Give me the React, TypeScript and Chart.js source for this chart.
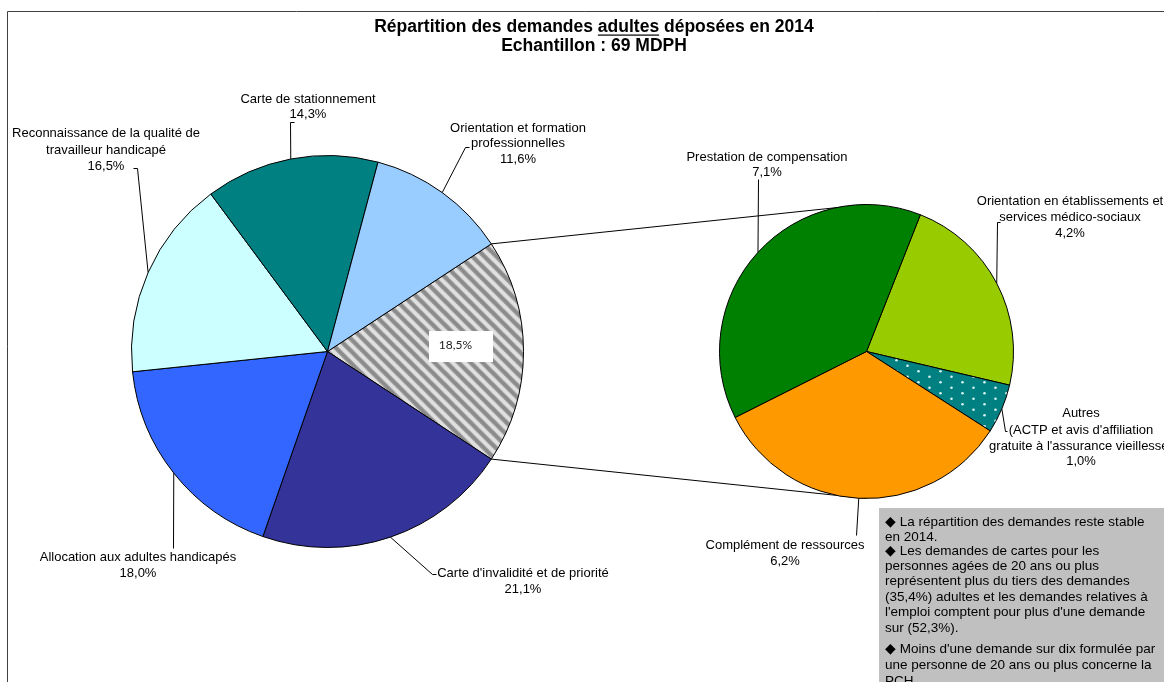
import React, { useEffect, useRef } from 'react';
import { Chart, registerables } from 'chart.js';

Chart.register(...registerables);

const W = 1164;
const H = 682;
const FONT = '"Liberation Sans", Arial, sans-serif';

// ---------- data ----------
const titleLine1 = ['Répartition des demandes ', 'adultes', ' déposées en 2014'];
const titleLine2 = 'Echantillon : 69 MDPH';

const mainCategories = [
  'Autres demandes (détail)',
  "Carte d'invalidité et de priorité",
  'Allocation aux adultes handicapés',
  'Reconnaissance de la qualité de travailleur handicapé',
  'Carte de stationnement',
  'Orientation et formation professionnelles',
];
const mainValues = [18.5, 21.1, 18.0, 16.5, 14.3, 11.6];
const mainLabelLines = [
  [],
  ["Carte d'invalidité et de priorité"],
  ['Allocation aux adultes handicapés'],
  ['Reconnaissance de la qualité de', 'travailleur handicapé'],
  ['Carte de stationnement'],
  ['Orientation et formation', 'professionnelles'],
];

const subCategories = [
  'Orientation en établissements et services médico-sociaux',
  "Autres (ACTP et avis d'affiliation gratuite à l'assurance vieillesse)",
  'Complément de ressources',
  'Prestation de compensation',
];
const subValues = [4.2, 1.0, 6.2, 7.1];
const subLabelLines = [
  ['Orientation en établissements et', 'services médico-sociaux'],
  ['Autres', "(ACTP et avis d'affiliation", "gratuite à l'assurance vieillesse)"],
  ['Complément de ressources'],
  ['Prestation de compensation'],
];

const noteLines = [
  '◆ La répartition des demandes reste stable',
  'en 2014.',
  '◆ Les demandes de cartes pour les',
  'personnes agées de 20 ans ou plus',
  'représentent plus du tiers des demandes',
  '(35,4%) adultes et les demandes relatives à',
  "l'emploi comptent pour plus d'une demande",
  'sur (52,3%).',
  "◆ Moins d'une demande sur dix formulée par",
  'une personne de 20 ans ou plus concerne la',
  'PCH.',
];

// ---------- layout / style ----------
const mainColors = ['HATCH', '#333399', '#3366FF', '#CCFFFF', '#008080', '#99CCFF'];
const subColors = ['#99CC00', 'DOTS', '#FF9900', '#008000'];

type LabelPos = { cx: number; ys: number[]; path: number[][] } | null;
const mainLabelPos: LabelPos[] = [
  null,
  { cx: 523, ys: [573, 589], path: [[432, 574], [436, 574]] },
  { cx: 138, ys: [557, 573], path: [[173, 548]] },
  { cx: 106, ys: [133, 150, 166], path: [[137, 168], [133, 168]] },
  { cx: 308, ys: [99, 114], path: [[290, 122], [294, 122]] },
  { cx: 518, ys: [128, 143, 159], path: [[465, 147], [469, 147]] },
];
const subLabelPos: LabelPos[] = [
  { cx: 1070, ys: [201, 217, 233], path: [[997, 222], [1000, 222]] },
  { cx: 1081, ys: [413, 430, 446, 461], path: [[1005, 431], [1007, 431]] },
  { cx: 785, ys: [545, 561], path: [[856, 535]] },
  { cx: 767, ys: [157, 172], path: [[758, 179]] },
];
const noteYs = [522, 537, 551, 566, 581, 597, 612, 628, 649, 665, 681];

function pct(v: number) {
  return v.toFixed(1).replace('.', ',') + '%';
}

function makeHatch(): CanvasPattern | string {
  const c = document.createElement('canvas');
  c.width = 12;
  c.height = 12;
  const g = c.getContext('2d');
  if (!g) return '#bbbbbb';
  g.fillStyle = '#e0e0e0';
  g.fillRect(0, 0, 12, 12);
  for (const [lw, col] of [[5, '#a8a8a8'], [3, '#8a8a8a']] as [number, string][]) {
    g.strokeStyle = col;
    g.lineWidth = lw;
    for (const x0 of [-12, 0, 12]) {
      g.beginPath();
      g.moveTo(x0 - 2, -2);
      g.lineTo(x0 + 14, 14);
      g.stroke();
    }
  }
  return g.createPattern(c, 'repeat') || '#bbbbbb';
}

function makeDots(): CanvasPattern | string {
  const c = document.createElement('canvas');
  c.width = 22;
  c.height = 11;
  const g = c.getContext('2d');
  if (!g) return '#008080';
  g.fillStyle = '#008080';
  g.fillRect(0, 0, 22, 11);
  g.fillStyle = '#d6f2f2';
  for (const [x, y] of [[5.5, 2.75], [16.5, 8.25]]) {
    g.beginPath();
    g.arc(x, y, 1.3, 0, Math.PI * 2);
    g.fill();
  }
  return g.createPattern(c, 'repeat') || '#008080';
}

function arcGeom(chart: any, i: number) {
  const arc = chart.getDatasetMeta(0).data[i] as any;
  return arc.getProps(['x', 'y', 'startAngle', 'endAngle', 'outerRadius'], true);
}

function drawLabels(ctx: CanvasRenderingContext2D, chart: any, lines: string[][], values: number[], pos: LabelPos[]) {
  ctx.save();
  ctx.strokeStyle = '#000';
  ctx.lineWidth = 1;
  ctx.fillStyle = '#000';
  ctx.font = `13px ${FONT}`;
  ctx.textAlign = 'center';
  ctx.textBaseline = 'middle';
  pos.forEach((p, i) => {
    if (!p) return;
    const g = arcGeom(chart, i);
    const mid = (g.startAngle + g.endAngle) / 2;
    const ax = g.x + Math.cos(mid) * g.outerRadius;
    const ay = g.y + Math.sin(mid) * g.outerRadius;
    ctx.beginPath();
    ctx.moveTo(ax, ay);
    p.path.forEach(([x, y]) => ctx.lineTo(x + 0.5, y + 0.5));
    ctx.stroke();
    const all = [...lines[i], pct(values[i])];
    all.forEach((t, k) => ctx.fillText(t, p.cx, p.ys[k]));
  });
  ctx.restore();
}

export default function App() {
  const mainRef = useRef<HTMLCanvasElement>(null);
  const subRef = useRef<HTMLCanvasElement>(null);

  useEffect(() => {
    if (!mainRef.current || !subRef.current) return;
    const hatch = makeHatch();
    const dots = makeDots();

    const mainPlugin = {
      id: 'mainDecor',
      beforeDraw(chart: any) {
        const ctx = chart.ctx as CanvasRenderingContext2D;
        ctx.save();
        ctx.fillStyle = '#ffffff';
        ctx.fillRect(0, 0, W, H);
        ctx.strokeStyle = '#404040';
        ctx.lineWidth = 1;
        ctx.beginPath();
        ctx.moveTo(7.5, H);
        ctx.lineTo(7.5, 11.5);
        ctx.lineTo(W, 11.5);
        ctx.stroke();
        ctx.restore();
      },
      afterDraw(chart: any) {
        const ctx = chart.ctx as CanvasRenderingContext2D;
        drawLabels(ctx, chart, mainLabelLines, mainValues, mainLabelPos);
        // label of the detailed slice
        const g = arcGeom(chart, 0);
        const mid = (g.startAngle + g.endAngle) / 2;
        const lx = g.x + Math.cos(mid) * g.outerRadius * 0.68;
        const ly = g.y + Math.sin(mid) * g.outerRadius * 0.68;
        ctx.save();
        ctx.fillStyle = '#ffffff';
        ctx.fillRect(Math.round(lx - 32), Math.round(ly - 21), 64, 31);
        ctx.fillStyle = '#222';
        ctx.font = `12px Lato, "Open Sans", sans-serif`;
        ctx.textAlign = 'left';
        ctx.textBaseline = 'middle';
        ctx.fillText(pct(mainValues[0]), lx - 22, ly - 6);
        ctx.restore();
      },
    };

    const mainChart = new Chart(mainRef.current, {
      type: 'pie',
      data: {
        labels: mainCategories,
        datasets: [
          {
            data: mainValues,
            backgroundColor: mainColors.map((c) => (c === 'HATCH' ? hatch : c)) as any,
            borderColor: '#000000',
            borderWidth: 1,
          },
        ],
      },
      options: {
        responsive: false,
        animation: false,
        events: [],
        rotation: 56.7,
        layout: { padding: { left: 131, right: W - 131 - 393, top: 155, bottom: H - 155 - 393 } },
        plugins: { legend: { display: false }, tooltip: { enabled: false }, title: { display: false } },
      },
      plugins: [mainPlugin],
    });

    const subPlugin = {
      id: 'subDecor',
      beforeDatasetsDraw(chart: any) {
        const ctx = chart.ctx as CanvasRenderingContext2D;
        const m = arcGeom(mainChart, 0);
        const s = chart.getDatasetMeta(0).data[0] as any;
        const sp = s.getProps(['x', 'y', 'outerRadius'], true);
        ctx.save();
        ctx.strokeStyle = '#000';
        ctx.lineWidth = 1;
        ctx.beginPath();
        ctx.moveTo(m.x + Math.cos(m.startAngle) * m.outerRadius, m.y + Math.sin(m.startAngle) * m.outerRadius);
        ctx.lineTo(sp.x, sp.y - sp.outerRadius);
        ctx.moveTo(m.x + Math.cos(m.endAngle) * m.outerRadius, m.y + Math.sin(m.endAngle) * m.outerRadius);
        ctx.lineTo(sp.x, sp.y + sp.outerRadius);
        ctx.stroke();
        ctx.restore();
      },
      afterDraw(chart: any) {
        const ctx = chart.ctx as CanvasRenderingContext2D;
        drawLabels(ctx, chart, subLabelLines, subValues, subLabelPos);

        // title
        ctx.save();
        ctx.fillStyle = '#000';
        ctx.font = `bold 17.5px ${FONT}`;
        ctx.textBaseline = 'middle';
        const widths = titleLine1.map((t) => ctx.measureText(t).width);
        const total = widths.reduce((a, b) => a + b, 0);
        const cx = 594;
        let x = cx - total / 2;
        titleLine1.forEach((t, i) => {
          ctx.textAlign = 'left';
          ctx.fillText(t, x, 27);
          if (i === 1) {
            ctx.fillRect(x, 34.5, widths[i], 1.2);
          }
          x += widths[i];
        });
        ctx.textAlign = 'center';
        ctx.fillText(titleLine2, cx, 46);

        // note box
        ctx.fillStyle = '#c0c0c0';
        ctx.fillRect(879, 508, W - 879, H - 508);
        ctx.fillStyle = '#000';
        ctx.font = `13.5px ${FONT}`;
        ctx.textAlign = 'left';
        noteLines.forEach((t, i) => ctx.fillText(t, 885, noteYs[i]));
        ctx.restore();
      },
    };

    const subChart = new Chart(subRef.current, {
      type: 'pie',
      data: {
        labels: subCategories,
        datasets: [
          {
            data: subValues,
            backgroundColor: subColors.map((c) => (c === 'DOTS' ? dots : c)) as any,
            borderColor: '#000000',
            borderWidth: 1,
          },
        ],
      },
      options: {
        responsive: false,
        animation: false,
        events: [],
        rotation: 21.5,
        layout: { padding: { left: 719, right: W - 719 - 295, top: 204, bottom: H - 204 - 295 } },
        plugins: { legend: { display: false }, tooltip: { enabled: false }, title: { display: false } },
      },
      plugins: [subPlugin],
    });

    return () => {
      subChart.destroy();
      mainChart.destroy();
    };
  }, []);

  return (
    <div style={{ position: 'absolute', left: 0, top: 0, width: W, height: H, overflow: 'hidden' }}>
      <canvas ref={mainRef} width={W} height={H} style={{ position: 'absolute', left: 0, top: 0 }} />
      <canvas ref={subRef} width={W} height={H} style={{ position: 'absolute', left: 0, top: 0 }} />
    </div>
  );
}
